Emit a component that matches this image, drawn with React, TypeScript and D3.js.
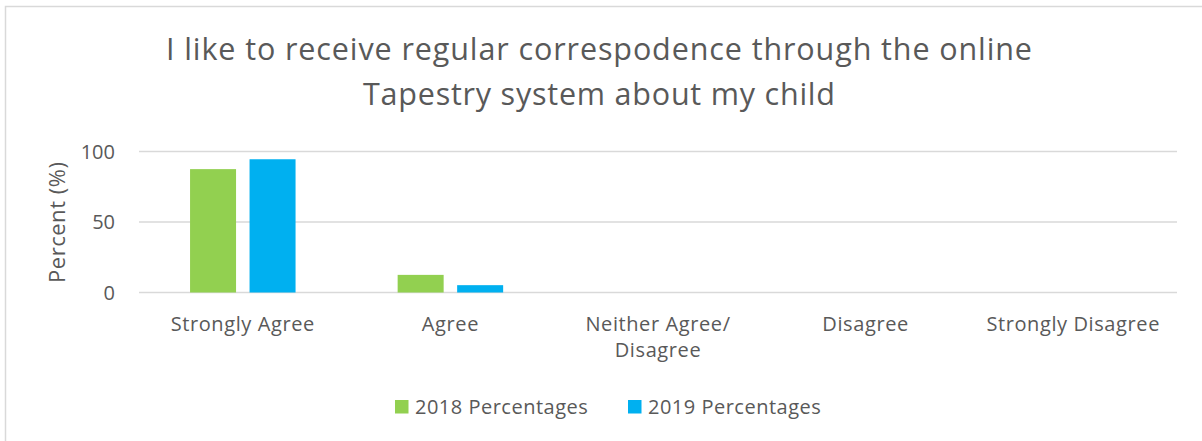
import React from "react";
import * as d3 from "d3";

const categories = ["Strongly Agree", "Agree", "Neither Agree/\nDisagree", "Disagree", "Strongly Disagree"];
const series2018 = [87.5, 12.5, 0, 0, 0];
const series2019 = [94.5, 5.2, 0, 0, 0];
const seriesNames = ["2018 Percentages", "2019 Percentages"];
const yTicks = [0, 50, 100];
const titleLines = ["I like to receive regular correspodence through the online", "Tapestry system about my child"];

const colors = ["#92D050", "#00B0F0"];
const textColor = "#595959";
const font = "'Open Sans', sans-serif";

export default function App() {
  const W = 1202, H = 441;
  const x0 = 139, x1 = 1177;
  const y = d3.scaleLinear().domain([0, 100]).range([292.5, 151.5]);
  const xb = d3.scaleBand<string>().domain(categories).range([x0, x1]);
  const bw = 46, gap = 13.5;
  const data = [series2018, series2019];
  const titleWidths = [866, 472];

  return (
    <svg width={W} height={H} style={{ position: "absolute", left: 0, top: 0, fontFamily: font }}>
      <rect x={0} y={0} width={W} height={H} fill="#fff" />
      <rect x={5.5} y={6.5} width={W + 20} height={H + 20} fill="none" stroke="#D9D9D9" strokeWidth={1.5} />
      {titleLines.map((t, i) => (
        <text key={i} x={599} y={59.5 + i * 45.5} textAnchor="middle" fontSize={30.5} fill={textColor}
          textLength={titleWidths[i]} lengthAdjust="spacing">{t}</text>
      ))}
      {yTicks.map((t) => (
        <g key={t}>
          <line x1={x0} x2={x1} y1={y(t)} y2={y(t)} stroke="#D9D9D9" strokeWidth={1.5} />
          <text x={115} y={y(t)} dy="0.36em" textAnchor="end" fontSize={20} fill={textColor}>{t}</text>
        </g>
      ))}
      <text transform={`translate(65,${222.5}) rotate(-90)`} textAnchor="middle" fontSize={22} fill={textColor}
        textLength={121} lengthAdjust="spacing">Percent (%)</text>
      {categories.map((c, ci) => {
        const cx = (xb(c) as number) + xb.bandwidth() / 2;
        return (
          <g key={c}>
            {data.map((s, si) => {
              const v = s[ci];
              if (v <= 0) return null;
              const bx = cx - gap / 2 - bw + si * (bw + gap);
              return <rect key={si} x={bx} y={y(v)} width={bw} height={y(0) - y(v)} fill={colors[si]} />;
            })}
            {c.split("\n").map((line, li) => (
              <text key={li} x={cx} y={331 + li * 26} textAnchor="middle" fontSize={20} letterSpacing={0.6} fill={textColor}>{line}</text>
            ))}
          </g>
        );
      })}
      {seriesNames.map((n, i) => {
        const lx = 395 + i * 233;
        return (
          <g key={n}>
            <rect x={lx} y={400} width={13.5} height={13.5} fill={colors[i]} />
            <text x={lx + 20} y={407} dy="0.36em" fontSize={20} letterSpacing={0.5} fill={textColor}>{n}</text>
          </g>
        );
      })}
    </svg>
  );
}
